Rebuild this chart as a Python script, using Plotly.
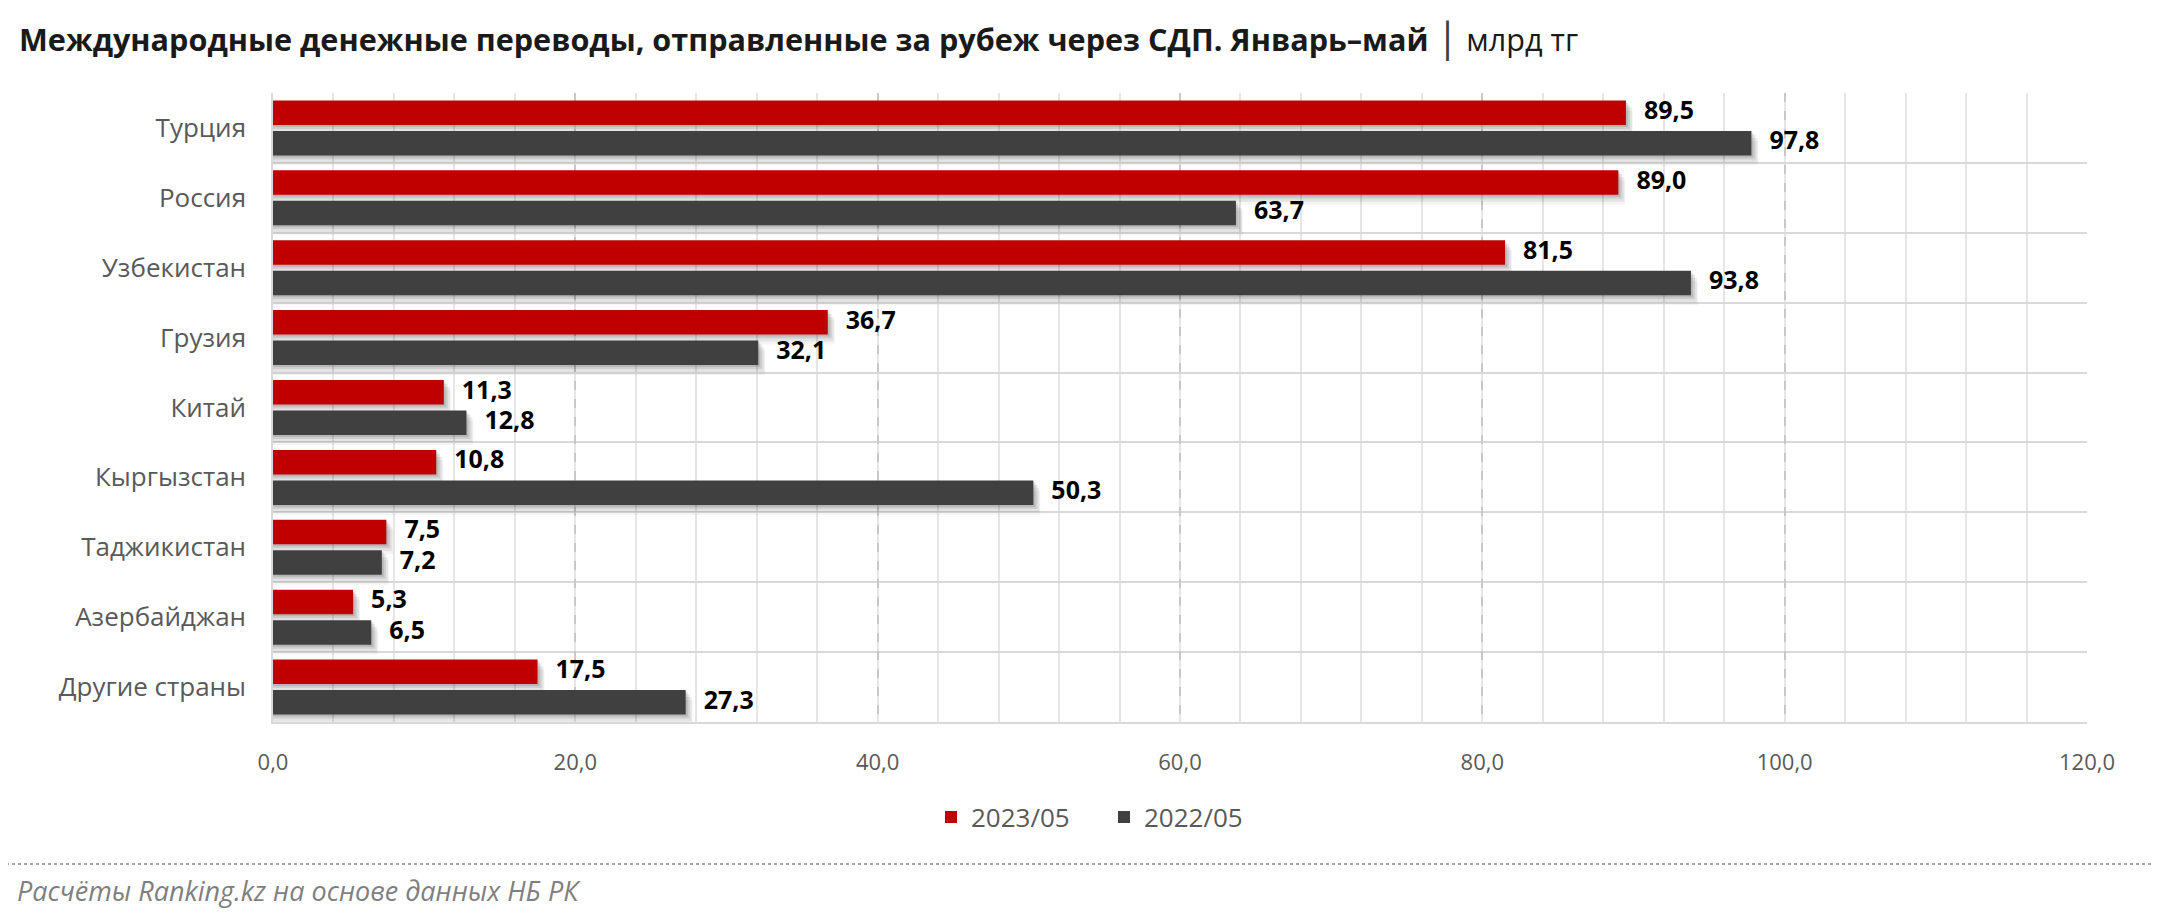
import plotly.graph_objects as go

categories = ["Турция", "Россия", "Узбекистан", "Грузия", "Китай", "Кыргызстан",
              "Таджикистан", "Азербайджан", "Другие страны"]
values_2023 = [89.5, 89.0, 81.5, 36.7, 11.3, 10.8, 7.5, 5.3, 17.5]
values_2022 = [97.8, 63.7, 93.8, 32.1, 12.8, 50.3, 7.2, 6.5, 27.3]
series_names = ["2023/05", "2022/05"]
x_ticks = [0, 20, 40, 60, 80, 100, 120]

title_main = "Международные денежные переводы, отправленные за рубеж через СДП. Январь–май"
title_unit = "млрд тг"
source_text = "Расчёты Ranking.kz на основе данных НБ РК"

FONT = "Open Sans"
RED = "#C00000"
DARK = "#404040"

PAGE = 8  # default page margin of the html body
W, H = 2160 - PAGE, 921 - PAGE
L, R = 273 - PAGE, 2160 - 2087
T, B = 93 - PAGE, 921 - 722
plot_w = W - L - R
plot_h = H - T - B
band_px = plot_h / len(categories)
px_per_unit = plot_w / 120.0

bar_w = 24.5 / band_px
shift = 15.25 / band_px
pos = list(range(len(categories)))


def fmt(v):
    return f"{v:.1f}".replace(".", ",")


def py(y_page):
    # page y pixel -> paper y
    return -((y_page - PAGE) - (T + plot_h)) / plot_h


def px(x_page):
    return ((x_page - PAGE) - L) / plot_w


fig = go.Figure()

series = [(values_2023, RED, -shift, series_names[0]),
          (values_2022, DARK, shift, series_names[1])]

# soft shadows (Excel-like)
for vals, col, off, name in series:
    for dx_px, dy_px, a in [(2, 2, 0.11), (4, 4, 0.09), (6, 7, 0.07), (7, 10, 0.04)]:
        fig.add_trace(go.Bar(
            x=[v + dx_px / px_per_unit for v in vals],
            y=[p + off + dy_px / band_px for p in pos],
            orientation="h", width=bar_w,
            marker=dict(color=f"rgba(0,0,0,{a})", line=dict(width=0)),
            showlegend=False, hoverinfo="skip"))

for vals, col, off, name in series:
    fig.add_trace(go.Bar(
        x=vals, y=[p + off for p in pos], orientation="h", width=bar_w,
        marker=dict(color=col, line=dict(width=0)), name=name))

for vals, col, off, name in series:
    fig.add_trace(go.Scatter(
        x=[v + 18 / px_per_unit for v in vals], y=[p + off for p in pos],
        mode="text", text=[fmt(v) for v in vals], textposition="middle right",
        textfont=dict(family=FONT, size=25, color="#000000", weight="bold"),
        showlegend=False, hoverinfo="skip", cliponaxis=False))

fig.update_layout(
    width=W, height=H, barmode="overlay",
    margin=dict(l=L, r=R, t=T, b=B, autoexpand=False),
    paper_bgcolor="white", plot_bgcolor="white",
    font=dict(family=FONT, color="#595959"),
    separators=", ",
    title=dict(
        text=f"<b>{title_main}</b> <span style='font-size:40px;color:#404040'>|</span> <span style='font-weight:normal'>{title_unit}</span>",
        x=(19 - PAGE) / W, xanchor="left", xref="container",
        y=1 - (40 - PAGE) / H, yanchor="middle", yref="container",
        font=dict(family=FONT, size=30.6, color="#1a1a1a")),
    legend=dict(orientation="h", x=px(1104), xanchor="center", y=py(817), yanchor="middle",
                font=dict(family=FONT, size=26, color="#595959"), traceorder="normal",
                entrywidth=128, entrywidthmode="pixels"),
    showlegend=True,
)

fig.update_xaxes(
    range=[0, 120], tickvals=x_ticks, ticktext=[fmt(v) for v in x_ticks],
    showgrid=True, gridcolor="#C8C8C8", gridwidth=1.5, griddash="dash",
    minor=dict(dtick=4, showgrid=True, gridcolor="#E6E6E6", gridwidth=1.5, griddash="solid"),
    showline=True, linecolor="#D9D9D9", linewidth=1.5, zeroline=False,
    ticks="", ticklabelstandoff=20,
    tickfont=dict(family=FONT, size=22, color="#595959"),
)
fig.update_yaxes(
    range=[len(categories) - 0.5, -0.5], tickvals=pos, ticktext=categories,
    showgrid=False, zeroline=False,
    minor=dict(tickvals=[p - 0.5 for p in pos] + [len(categories) - 0.5],
               showgrid=True, gridcolor="#D9D9D9", gridwidth=1.5, ticks=""),
    showline=True, linecolor="#D9D9D9", linewidth=1.5,
    ticks="", ticklabelstandoff=20,
    tickfont=dict(family=FONT, size=26, color="#595959"),
)

fig.add_shape(type="line", xref="paper", yref="paper",
              x0=px(0), x1=px(2160),
              y0=py(864), y1=py(864),
              line=dict(color="#A6A6A6", width=2, dash="dot"))

fig.add_annotation(text=f"<i>{source_text}</i>", xref="paper", yref="paper",
                   x=px(15), xanchor="left",
                   y=py(890), yanchor="middle",
                   showarrow=False, font=dict(family=FONT, size=27, color="#7F7F7F"))

fig.write_html("out.html")
